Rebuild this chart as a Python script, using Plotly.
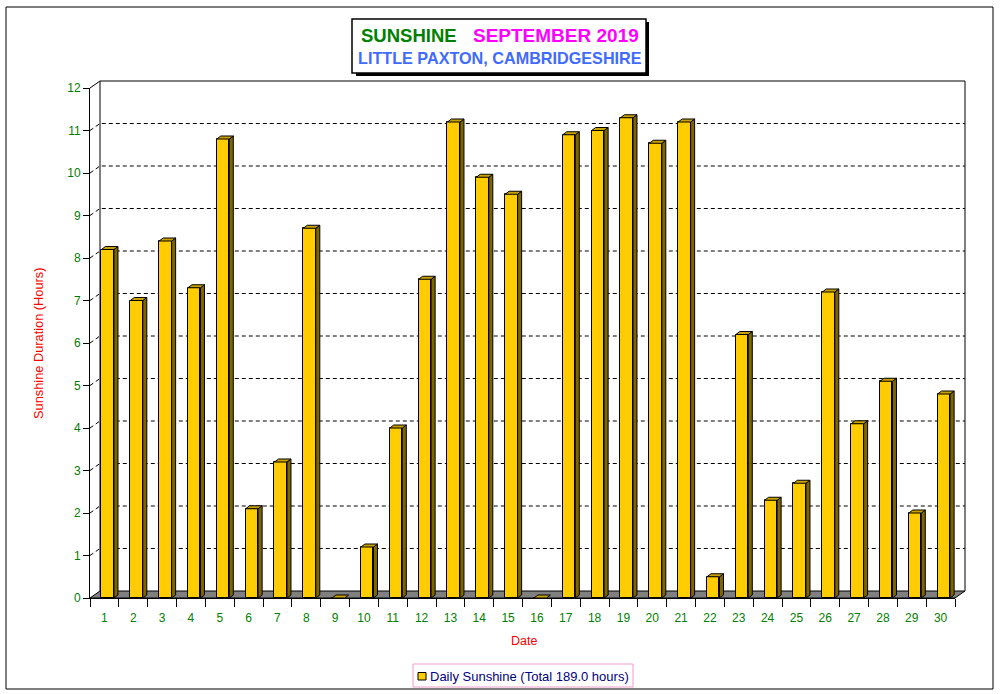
import plotly.graph_objects as go

# ---------------- data ----------------
days = list(range(1, 31))
sunshine_hours = [8.2, 7.0, 8.4, 7.3, 10.8, 2.1, 3.2, 8.7, 0.0, 1.2,
                  4.0, 7.5, 11.2, 9.9, 9.5, 0.0, 10.9, 11.0, 11.3, 10.7,
                  11.2, 0.5, 6.2, 2.3, 2.7, 7.2, 4.1, 5.1, 2.0, 4.8]
y_ticks = list(range(0, 13))
title_left = "SUNSHINE"
title_right = "SEPTEMBER 2019"
subtitle = "LITTLE PAXTON, CAMBRIDGESHIRE"
series_name = "Daily Sunshine"
x_title = "Date"
y_title = "Sunshine Duration (Hours)"

# ---------------- geometry ----------------
W, H = 1001, 694
L, R, T, B = 90, 955, 88, 598
PW, PH = R - L, B - T
X_RANGE = [0.5, 30.5]
Y_RANGE = [0, 12]
px_per_x = PW / (X_RANGE[1] - X_RANGE[0])
px_per_y = PH / (Y_RANGE[1] - Y_RANGE[0])


def px(xp):
    return (xp - L) / PW


def py(yp):
    return (B - yp) / PH


# wall depth (paper units)
dxw = 10 / PW
dyw = 7 / PH

# bar geometry (data units)
bar_w = 12.5 / px_per_x
bar_shift = 3.3 / px_per_x
bar_off = -bar_w / 2 + bar_shift
ddx = 4 / px_per_x
ddy = 3 / px_per_y

FRONT = "#FFCC00"
SIDE = "#7F6500"
TOP = "#C9A200"
GREEN = "#008000"
FONT = "Liberation Sans, Arial, sans-serif"

fig = go.Figure()

fig.add_trace(go.Bar(
    x=days, y=sunshine_hours, width=bar_w, offset=bar_off,
    marker=dict(color=FRONT, line=dict(color="black", width=1)),
    name=series_name, showlegend=False, hoverinfo="x+y",
))

side_x, side_y, top_x, top_y = [], [], [], []
for d, v in zip(days, sunshine_hours):
    xl = d + bar_off
    xr = xl + bar_w
    if v > 0:
        side_x += [xr, xr, xr + ddx, xr + ddx, xr, None]
        side_y += [0, v, v + ddy, ddy, 0, None]
    top_x += [xl, xr, xr + ddx, xl + ddx, xl, None]
    top_y += [v, v, v + ddy, v + ddy, v, None]

fig.add_trace(go.Scatter(x=side_x, y=side_y, mode="lines", fill="toself",
                         fillcolor=SIDE, line=dict(color="black", width=1),
                         showlegend=False, hoverinfo="skip"))
fig.add_trace(go.Scatter(x=top_x, y=top_y, mode="lines", fill="toself",
                         fillcolor=TOP, line=dict(color="black", width=1),
                         showlegend=False, hoverinfo="skip"))

shapes = []
# outer border
shapes.append(dict(type="rect", xref="paper", yref="paper",
                   x0=px(6), x1=px(993), y0=py(7), y1=py(689),
                   line=dict(color="black", width=1), layer="below"))
# floor
shapes.append(dict(type="path", xref="paper", yref="paper",
                   path=f"M 0 0 L {dxw} {dyw} L {1 + dxw} {dyw} L 1 0 Z",
                   fillcolor="#808080", line=dict(color="black", width=1),
                   layer="below"))
# back wall outline
shapes.append(dict(type="path", xref="paper", yref="paper",
                   path=(f"M {dxw} {dyw} L {dxw} {1 + dyw} L {1 + dxw} {1 + dyw} "
                         f"L {1 + dxw} {dyw}"),
                   line=dict(color="black", width=1), layer="below"))
shapes.append(dict(type="line", xref="paper", yref="paper",
                   x0=0, y0=1, x1=dxw, y1=1 + dyw,
                   line=dict(color="black", width=1), layer="below"))
# dashed gridlines
for v in y_ticks[1:-1]:
    yf = (v - Y_RANGE[0]) / (Y_RANGE[1] - Y_RANGE[0])
    shapes.append(dict(type="path", xref="paper", yref="paper",
                       path=f"M 0 {yf} L {dxw} {yf + dyw} L {1 + dxw} {yf + dyw}",
                       line=dict(color="black", width=1, dash="4px,3px"),
                       layer="below"))
# title box with shadow
shapes.append(dict(type="rect", xref="paper", yref="paper",
                   x0=px(356), x1=px(649), y0=py(22), y1=py(76),
                   fillcolor="black", line=dict(width=0), layer="below"))
shapes.append(dict(type="rect", xref="paper", yref="paper",
                   x0=px(352), x1=px(646), y0=py(19), y1=py(73),
                   fillcolor="white", line=dict(color="black", width=1.5),
                   layer="below"))
# legend box
shapes.append(dict(type="rect", xref="paper", yref="paper",
                   x0=px(413), x1=px(633), y0=py(664), y1=py(687),
                   fillcolor="white", line=dict(color="#F09CC8", width=1)))
shapes.append(dict(type="rect", xref="paper", yref="paper",
                   x0=px(418), x1=px(426), y0=py(672.5), y1=py(680),
                   fillcolor=FRONT, line=dict(color="black", width=1)))

total = sum(sunshine_hours)
annotations = [
    dict(text=f"<b>{title_left}</b>", xref="paper", yref="paper",
         x=px(408.5), y=py(36), showarrow=False, xanchor="center", yanchor="middle",
         font=dict(family=FONT, size=18.5, color=GREEN)),
    dict(text=f"<b>{title_right}</b>", xref="paper", yref="paper",
         x=px(556), y=py(36), showarrow=False, xanchor="center", yanchor="middle",
         font=dict(family=FONT, size=19, color="#FF00FF")),
    dict(text=f"<b>{subtitle}</b>", xref="paper", yref="paper",
         x=px(499.5), y=py(58), showarrow=False, xanchor="center", yanchor="middle",
         font=dict(family=FONT, size=16.2, color="#3F6BFF")),
    dict(text=x_title, xref="paper", yref="paper",
         x=px(524), y=py(641), showarrow=False, xanchor="center", yanchor="middle",
         font=dict(family=FONT, size=12.5, color="#FF0000")),
    dict(text=y_title, xref="paper", yref="paper", textangle=-90,
         x=px(38), y=py(343), showarrow=False, xanchor="center", yanchor="middle",
         font=dict(family=FONT, size=12.8, color="#FF0000")),
    dict(text=f"{series_name} (Total {total:.1f} hours)", xref="paper", yref="paper",
         x=px(428), y=py(676), showarrow=False, xanchor="left", yanchor="middle",
         font=dict(family=FONT, size=13, color="#000080")),
]

fig.update_layout(
    width=W, height=H,
    margin=dict(l=L, r=W - R, t=T, b=H - B, pad=0),
    paper_bgcolor="white", plot_bgcolor="rgba(0,0,0,0)",
    showlegend=False, bargap=0,
    shapes=shapes, annotations=annotations,
    font=dict(family=FONT, size=12),
    xaxis=dict(range=X_RANGE, tickvals=days, ticktext=[str(d) for d in days],
               ticks="outside", ticklen=9, tickcolor="rgba(0,0,0,0)",
               minor=dict(ticks="outside", ticklen=8, tick0=0.5, dtick=1,
                          tickcolor="black", tickwidth=1),
               showline=True, linecolor="black", linewidth=1,
               showgrid=False, zeroline=False,
               tickfont=dict(family=FONT, size=12, color=GREEN), fixedrange=True),
    yaxis=dict(range=Y_RANGE, tickvals=y_ticks, ticks="outside", ticklen=6,
               tickcolor="black", showline=True, linecolor="black", linewidth=1,
               showgrid=False, zeroline=False,
               tickfont=dict(family=FONT, size=12, color=GREEN), fixedrange=True),
)

fig.write_html("out.html", include_plotlyjs=True,
               config=dict(displayModeBar=False),
               post_script="document.body.style.margin='0';document.body.style.overflow='hidden';")
